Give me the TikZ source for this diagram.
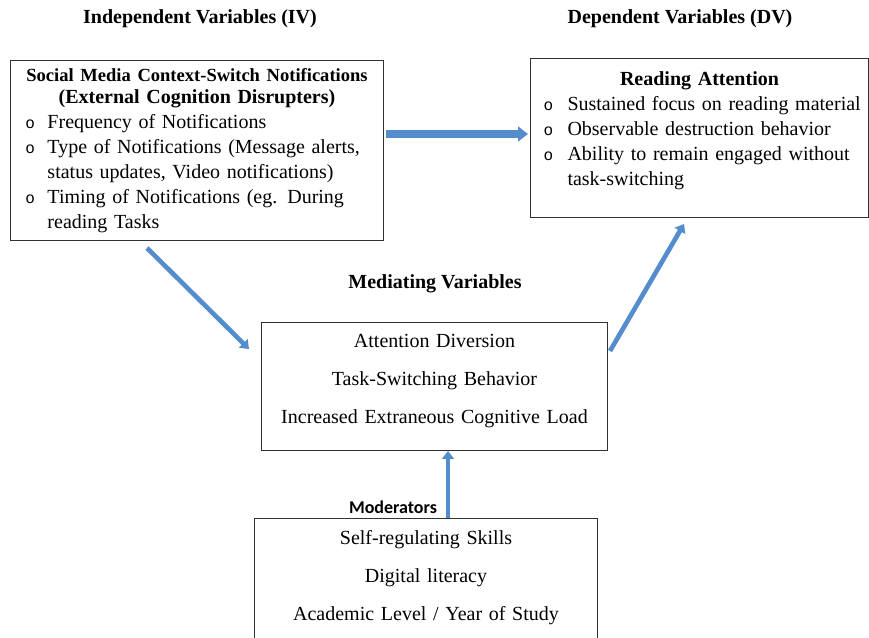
\documentclass[tikz,border=0pt]{standalone}
\usepackage{fontspec}
\setmainfont{Liberation Serif}
\newfontfamily\modfont{Carlito}
\newfontfamily\bulfont{Liberation Mono}
\usetikzlibrary{positioning,calc,arrows.meta}
\definecolor{arrblue}{RGB}{84,141,206}
\definecolor{boxgray}{RGB}{50,50,50}
% one bullet line, continuation lines hang under the text
\newcommand{\bul}[3]{\hangindent=25.75pt\hangafter=1\noindent\hspace*{#1}\makebox[#2][l]{\bulfont\fontsize{12}{12}\selectfont o}#3\par}

\begin{document}
\begin{tikzpicture}[x=0.75pt,y=-0.75pt,
	box/.style={draw=boxgray,line width=0.75pt,inner xsep=2pt,inner ysep=4pt,anchor=north west,font=\fontsize{15}{18.75}\selectfont},
	head/.style={font=\fontsize{15}{18.75}\selectfont\bfseries},
	link/.style={draw=arrblue,line width=3.5pt,-{Triangle[length=6pt,width=9pt]}},
	bigarr/.style={draw=arrblue,line width=6pt,-{Triangle[length=7.5pt,width=11pt]}}]
\useasboundingbox (0,0) rectangle (869,638);

\node [head] (ivtitle) at (200,19) {Independent Variables (IV)};
\node [head] (dvtitle) at (680,19) {Dependent Variables (DV)};
\node [head] (medtitle) at (435,284) {Mediating Variables};

\node [box,text width=275.75pt,minimum height=135pt] (iv) at (10,60) {%
	{\centering\bfseries\fontsize{13.9}{16}\selectfont Social Media Context-Switch Notifications\\\fontsize{15}{16}\selectfont(External Cognition Disrupters)\par}
	\raggedright
	\bul{9.25pt}{16.5pt}{Frequency of Notifications}
	\bul{9.25pt}{16.5pt}{Type of Notifications (Message alerts,\newline status updates, Video notifications)}
	\bul{9.25pt}{16.5pt}{Timing of Notifications (eg. During\newline reading Tasks}};

\node [box,text width=249.5pt,minimum height=119.25pt] (dv) at (530,58) {%
	{\centering\bfseries Reading Attention\par}
	\raggedright
	\bul{7.75pt}{18pt}{Sustained focus on reading material}
	\bul{7.75pt}{18pt}{Observable destruction behavior}
	\bul{7.75pt}{18pt}{Ability to remain engaged without\newline task-switching}
	\kern10.5pt\hrule height0pt};

\node [box,text width=255.5pt,minimum height=96pt,align=center,font=\fontsize{15}{28.5}\selectfont] (med) at (261,322) {%
	Attention Diversion\\Task-Switching Behavior\\Increased Extraneous Cognitive Load\\[-16.5pt]\mbox{}};

\node [box,text width=253.25pt,minimum height=105pt,align=center,font=\fontsize{15}{28.5}\selectfont] (mod) at (254,518) {%
	Self-regulating Skills\\Digital literacy\\Academic Level / Year of Study\\[-9.5pt]\mbox{}};
\node [font=\modfont\bfseries\fontsize{13.5}{16}\selectfont] (modtitle) at (393,507) {Moderators};

\draw [bigarr] ($(iv.north east)+(2,74)$) -- ($(dv.north west)+(-2,76)$);
\draw [link] ($(iv.south west)+(137,7)$) -- ($(med.north west)+(-12,27)$);
\draw [link] ($(med.north east)+(2,29)$) -- ($(dv.south west)+(154,6)$);
\draw [link] ($(mod.north west)+(194,0)$) -- ($(med.south west)+(187,0)$);
\end{tikzpicture}
\end{document}
